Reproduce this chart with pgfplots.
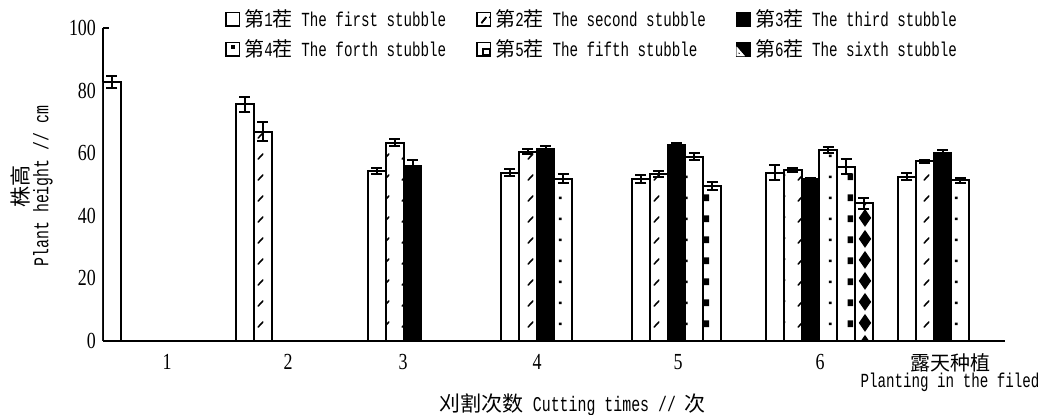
\documentclass[border=0pt]{standalone}
\usepackage{fontspec}
\usepackage{pgfplots}
\pgfplotsset{compat=1.18}
\usetikzlibrary{patterns}
\newfontfamily\cjk{Noto Sans CJK SC}
\newfontfamily\mono[FakeStretch=0.71]{Liberation Mono}
\newfontfamily\tnr[FakeStretch=0.78]{Liberation Serif}
\newcommand\cj[1]{{\cjk\fontsize{10}{12}\selectfont #1}}

\pgfdeclarepatternformonly{pslash}{\pgfqpoint{0pt}{0pt}}{\pgfqpoint{8.9pt}{10.3pt}}{\pgfqpoint{8.9pt}{10.3pt}}{%
  \pgfsetlinewidth{0.8pt}\pgfsetroundcap
  \pgfpathmoveto{\pgfqpoint{4.6pt}{3pt}}\pgfpathlineto{\pgfqpoint{7pt}{5.6pt}}\pgfusepath{stroke}}
\pgfdeclarepatternformonly{pdot}{\pgfqpoint{0pt}{0pt}}{\pgfqpoint{8.9pt}{10.3pt}}{\pgfqpoint{8.9pt}{10.3pt}}{%
  \pgfpathrectangle{\pgfqpoint{4pt}{4pt}}{\pgfqpoint{1.3pt}{1.3pt}}\pgfusepath{fill}}
\pgfdeclarepatternformonly{psq}{\pgfqpoint{0pt}{0pt}}{\pgfqpoint{8.9pt}{10.3pt}}{\pgfqpoint{8.9pt}{10.3pt}}{%
  \pgfpathrectangle{\pgfqpoint{4.8pt}{3pt}}{\pgfqpoint{2.8pt}{3.4pt}}\pgfusepath{fill}}
\pgfdeclarepatternformonly{pdia}{\pgfqpoint{0pt}{0pt}}{\pgfqpoint{8.9pt}{10.3pt}}{\pgfqpoint{8.9pt}{10.3pt}}{%
  \pgfpathmoveto{\pgfqpoint{5.5pt}{0.6pt}}\pgfpathlineto{\pgfqpoint{8.6pt}{5.15pt}}%
  \pgfpathlineto{\pgfqpoint{5.5pt}{9.7pt}}\pgfpathlineto{\pgfqpoint{2.4pt}{5.15pt}}\pgfpathclose\pgfusepath{fill}}

\begin{document}
\begin{tikzpicture}
\path[use as bounding box] (-51.5pt,-37pt) rectangle (470pt,170.5pt);
\begin{axis}[
  scale only axis, width=451pt, height=156.5pt,
  xmin=103, xmax=1005, ymin=0, ymax=100,
  axis lines=left, axis line style={-, line width=1pt},
  ytick={0,20,...,100}, tick align=inside, major tick length=3pt,
  tick style={line width=1pt, black},
  xtick={167,288,403,537,678,820,950},
  xticklabels={1,2,3,4,5,6,{\cj{露天种植}\\[-2.5pt]\mono\fontsize{10}{11}\selectfont Planting in the filed}},
  x tick style={draw=none},
  xticklabel style={align=center, font=\tnr\fontsize{11.5}{11}\selectfont},
  yticklabel style={font=\tnr\fontsize{11.5}{11}\selectfont},
  /pgf/number format/assume math mode=true,
  ybar, bar width=17.8,
  xlabel={{\cjk\fontsize{10.5}{12}\selectfont 刈割次数}\ Cutting times // {\cjk\fontsize{10.5}{12}\selectfont 次}},
  xlabel style={at={(axis description cs:0.521,-0.203)}, anchor=center, font=\mono\fontsize{10.5}{12}\selectfont},
  ylabel={{\cjk\fontsize{10.5}{12}\selectfont 株高}\\Plant height // cm},
  ylabel style={at={(axis description cs:-0.079,0.495)}, anchor=center, align=center, font=\mono\fontsize{10.5}{10}\selectfont},
  legend style={at={(axis description cs:0.135,1.073)}, anchor=north west, draw=none, fill=none,
    font=\mono\fontsize{10}{12}\selectfont, row sep=1pt, inner sep=0pt,
    /tikz/every even column/.append style={column sep=13pt}},
  legend columns=3, legend cell align=left,
  legend image code/.code={\draw[line width=0.8pt, fill=white] (0pt,-3.4pt) rectangle (6.8pt,3.4pt);},
  every axis plot/.append style={bar shift=0pt, draw=black, line width=1pt,
    error bars/y dir=both, error bars/y explicit,
    error bars/error bar style={line width=1pt, black},
    error bars/error mark options={rotate=90, mark size=2.75pt, line width=1pt, black}},
]
\addplot[fill=white] table[x=x, y=y, y error=e] {
x y e
111.9 82.7 2.0
244.9 75.6 2.5
376.9 54.4 1.0
509.9 53.8 1.0
640.9 51.7 1.2
774.9 53.8 2.4
906.9 52.5 1.2
};
\addlegendentry{\cj{第}1\cj{茬} The first stubble}
\addplot[fill=white, postaction={pattern=pslash},
  legend image code/.code={\draw[line width=0.8pt, fill=white] (0pt,-3.4pt) rectangle (6.8pt,3.4pt);
    \draw[line width=0.8pt] (2.2pt,-1.8pt) -- (4.6pt,1.2pt);}] table[x=x, y=y, y error=e] {
x y e
262.7 66.9 3.0
394.7 63.4 1.1
527.7 60.4 0.8
658.7 53.3 1.0
792.7 54.6 0.6
924.7 57.4 0.4
};
\addlegendentry{\cj{第}2\cj{茬} The second stubble\hspace{4.5pt}}
\addplot[fill=black,
  legend image code/.code={\draw[line width=0.8pt, fill=black] (0pt,-3.4pt) rectangle (6.8pt,3.4pt);}] table[x=x, y=y, y error=e] {
x y e
412.5 55.9 1.8
545.5 61.2 1.0
676.5 62.6 0.7
810.5 51.9 0.3
942.5 60.2 0.8
};
\addlegendentry{\cj{第}3\cj{茬} The third stubble}
\addplot[fill=white, postaction={pattern=pdot},
  legend image code/.code={\draw[line width=0.8pt, fill=white] (0pt,-3.4pt) rectangle (6.8pt,3.4pt);
    \fill (2.8pt,0.6pt) rectangle (4pt,1.8pt);}] table[x=x, y=y, y error=e] {
x y e
563.3 51.9 1.4
694.3 58.9 1.2
828.3 61.0 1.0
960.3 51.4 0.8
};
\addlegendentry{\cj{第}4\cj{茬} The forth stubble}
\addplot[fill=white, postaction={pattern=psq},
  legend image code/.code={\draw[line width=0.8pt, fill=white] (0pt,-3.4pt) rectangle (6.8pt,3.4pt);
    \fill (3.2pt,-3pt) rectangle (6.4pt,0.4pt);}] table[x=x, y=y, y error=e] {
x y e
712.1 49.5 1.2
846.1 55.7 2.5
};
\addlegendentry{\cj{第}5\cj{茬} The fifth stubble}
\addplot[fill=white, postaction={pattern=pdia},
  legend image code/.code={\draw[line width=0.8pt, fill=black] (0pt,-3.4pt) rectangle (6.8pt,3.4pt);
    \fill[white] (0.5pt,-2.9pt) -- (3pt,-2.9pt) -- (0.5pt,0pt) -- cycle;}] table[x=x, y=y, y error=e] {
x y e
863.9 44.0 1.7
};
\addlegendentry{\cj{第}6\cj{茬} The sixth stubble}
\end{axis}
\end{tikzpicture}
\end{document}
